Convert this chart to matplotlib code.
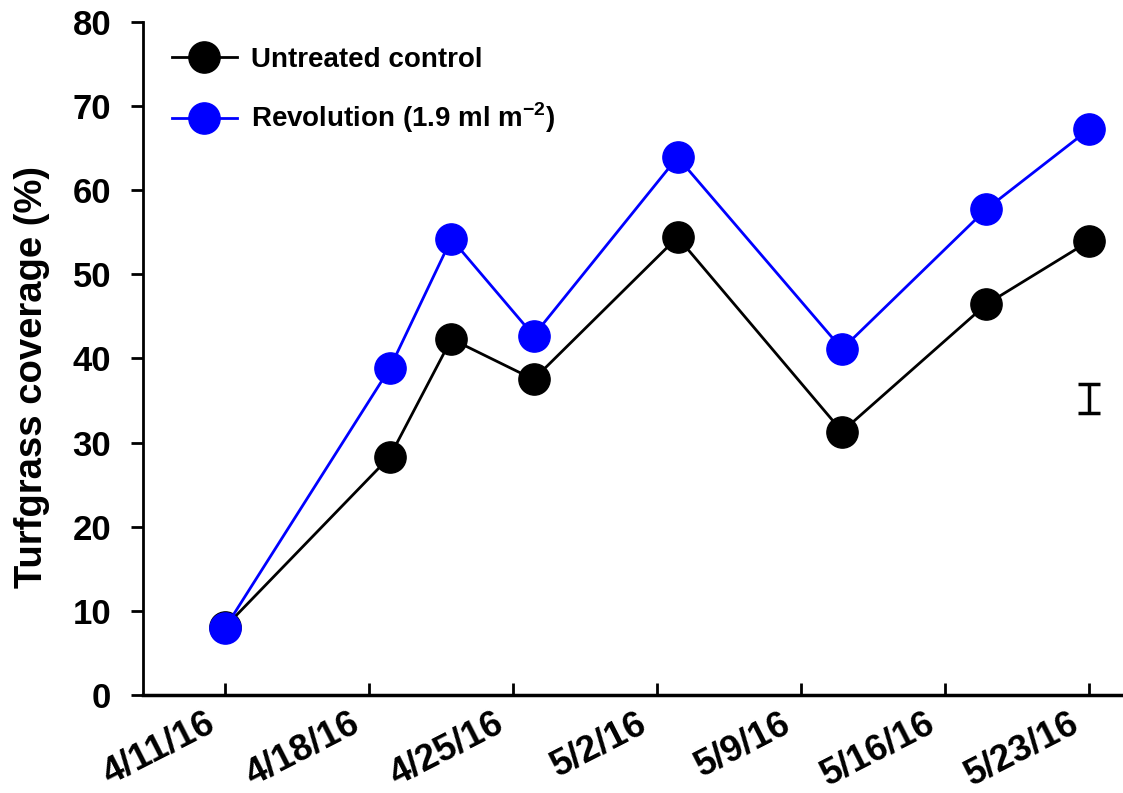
import datetime as dt
import matplotlib
matplotlib.use('Agg')
import matplotlib.pyplot as plt
from matplotlib.transforms import ScaledTranslation

plt.rcParams['font.family'] = ['Liberation Sans', 'DejaVu Sans']
plt.rcParams['mathtext.fontset'] = 'custom'
plt.rcParams['mathtext.bf'] = 'Liberation Sans:bold'
plt.rcParams['mathtext.rm'] = 'Liberation Sans'

# datos
fechas = ['2016-04-11', '2016-04-19', '2016-04-22', '2016-04-26',
          '2016-05-03', '2016-05-11', '2016-05-18', '2016-05-23']
control = [8.1, 28.3, 42.3, 37.5, 54.4, 31.3, 46.4, 53.9]
revolution = [8.0, 38.8, 54.2, 42.7, 63.9, 41.1, 57.7, 67.2]
ticks_fechas = ['2016-04-11', '2016-04-18', '2016-04-25', '2016-05-02',
                '2016-05-09', '2016-05-16', '2016-05-23']
ticks_etiquetas = ['4/11/16', '4/18/16', '4/25/16', '5/2/16', '5/9/16', '5/16/16', '5/23/16']
lsd_fecha = '2016-05-23'
lsd_centro = 35.2
lsd_medio = 1.75

def a_fecha(s):
    return dt.datetime.strptime(s, '%Y-%m-%d')

x = [a_fecha(f) for f in fechas]

fig = plt.figure(figsize=(11.23, 7.93), dpi=100)
ax = fig.add_axes([0.1273, 0.1236, 0.872, 0.849])

ax.plot(x, control, '-o', color='black', lw=2, ms=22.5, markeredgecolor='black',
        label='Untreated control', zorder=3)
ax.plot(x, revolution, '-o', color='#0000ff', lw=2, ms=22.5, markeredgecolor='#0000ff',
        label='Revolution (1.9 ml m$^{\\mathbf{-2}}$)', zorder=4)

# barra de error (LSD)
ax.errorbar([a_fecha(lsd_fecha)], [lsd_centro], yerr=[lsd_medio], color='black',
            lw=2.5, capsize=8, capthick=2.5, fmt='none')

ax.set_ylim(0, 80)
ax.set_yticks(range(0, 81, 10))
ax.set_xlim(a_fecha('2016-04-07'), a_fecha('2016-05-24') + dt.timedelta(hours=15))
ax.set_xticks([a_fecha(f) for f in ticks_fechas])
ax.set_xticklabels(ticks_etiquetas, rotation=27, ha='right', rotation_mode='anchor')

ax.spines['top'].set_visible(False)
ax.spines['right'].set_visible(False)
ax.spines['left'].set_linewidth(2)
ax.spines['bottom'].set_linewidth(2.5)
ax.tick_params(axis='y', direction='out', length=9, width=2, labelsize=25, pad=14)
ax.tick_params(axis='x', direction='in', length=9, width=2, labelsize=26.5, pad=8)
for t in ax.get_xticklabels() + ax.get_yticklabels():
    t.set_fontweight('bold')
desplaza = ScaledTranslation(-20 / 100, 0, fig.dpi_scale_trans)
for t in ax.get_xticklabels():
    t.set_transform(t.get_transform() + desplaza)

ax.set_ylabel('Turfgrass coverage (%)', fontsize=27.5, fontweight='bold')
ax.yaxis.set_label_coords(-0.095, 0.472)

leg = ax.legend(loc='center left', bbox_to_anchor=(0.153, 0.885), bbox_transform=fig.transFigure,
                frameon=False, prop={'size': 20, 'weight': 'bold'}, handlelength=2.34,
                handletextpad=0.5, labelspacing=1.0, borderaxespad=0, borderpad=0)

fig.savefig('out.png', dpi=100)
